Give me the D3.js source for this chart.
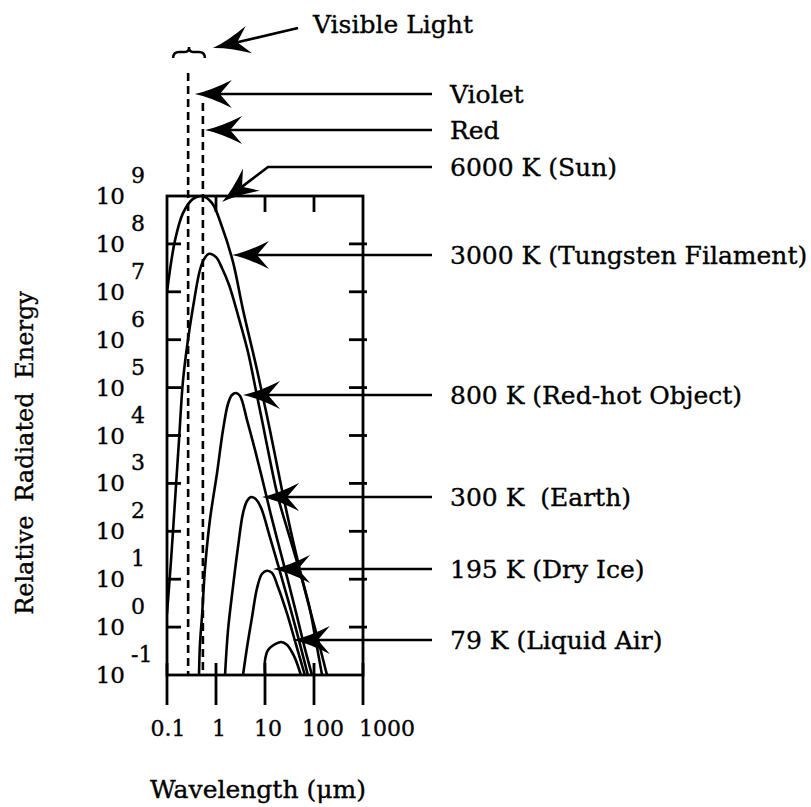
<!DOCTYPE html>
<html>
<head>
<meta charset="utf-8">
<script src="https://cdn.jsdelivr.net/npm/d3@7"></script>
<style>
body { margin:0; padding:0; background:white; overflow:hidden; }
text { font-family: 'DejaVu Serif', serif; fill:#000; stroke:#000; stroke-width:0.35px; }
</style>
</head>
<body>
<div id="chart"></div>
<script>
//========== DATA ==========
// each curve: [wavelength in µm, relative radiated energy]
const curve6000 = [[0.1,1e7],[0.146,1.2e8],[0.212,4.4e8],[0.34,8.7e8],[0.52,1e9],[0.83,7.1e8],[1.33,2.25e8],
  [2.22,4.2e7],[3.56,4.2e6],[6.9,2.3e5],[12.6,1.3e4],[22.2,730],[39,52],[69,4.7],[121,0.54],[184,0.1]];
const curve3000 = [[0.1,1.9],[0.121,25],[0.146,450],[0.176,8.1e3],[0.212,1.4e5],[0.268,1e6],[0.34,4.8e6],
  [0.47,2.85e7],[0.57,4.8e7],[0.72,6.2e7],[1.0,5.3e7],[1.33,3.1e7],[1.84,1.4e7],[2.8,3.3e6],[4.5,5.5e5],
  [6.5,8.9e4],[9.1,1.65e4],[12.6,3.1e3],[18.4,520],[31,83],[49,17],[79,2.9],[110,0.49],[146,0.1]];
const curve800 = [[0.45,0.1],[0.47,0.43],[0.52,1.8],[0.6,18],[0.75,170],[1.05,1650],[1.39,1.3e4],[1.76,4.6e4],
  [2.12,7e4],[2.56,7.7e4],[3.1,6.7e4],[4.3,2.1e4],[6.25,5e3],[9.1,1070],[13.2,220],[20.2,41],[31,7.6],
  [47,1.4],[65,0.36],[91,0.1]];
const curve300 = [[1.53,0.1],[1.76,0.87],[2.22,6.9],[2.81,47],[3.56,240],[4.3,430],[5.2,520],[6.5,470],
  [8.3,310],[12.6,76],[19.3,17],[29.5,3.7],[45,0.76],[75,0.1]];
const curve195 = [[3.56,0.1],[4.3,0.38],[5.4,1.55],[6.9,6.6],[8.7,13],[11,15],[13.9,13.5],[18.4,6.9],
  [28,1.95],[43,0.43],[65,0.1]];
const curve79 = [[10,0.1],[10,0.2],[11.5,0.33],[16.8,0.45],[21.2,0.49],[28,0.43],[39,0.25],[54,0.1]];

const curves = [curve6000, curve3000, curve800, curve300, curve195, curve79];

const violetWl = 0.27;     // dashed line, violet edge
const redWl = 0.54;        // dashed line, red edge

const xTicks = [0.1, 1, 10, 100, 1000];
const xTickLabels = ["0.1", "1", "10", "100", "1000"];
const yExps = [-1, 0, 1, 2, 3, 4, 5, 6, 7, 8, 9];

const annoLabels = ["Violet", "Red", "6000 K (Sun)", "3000 K (Tungsten Filament)", "800 K (Red-hot Object)",
  "300 K\u00a0 (Earth)", "195 K (Dry Ice)", "79 K (Liquid Air)"];
const annoTipWl = [0.37, 0.6, 1.33, 2.12, 3.56, 8.7, 14.6, 37];   // wavelength each arrow points at
const sunTipE = 7.5e8;                                           // the 6000 K arrow points down onto the peak

//========== LAYOUT ==========
const W = 811, H = 807;
const pLeft = 167, pRight = 363, pTop = 196, pBottom = 675;
const rowY = [94, 130, 167, 255, 395, 497, 569, 640];   // label rows on the right
const lineEndX = 432, labelX = 450;
const xLabelNudge = [1, 3, 3, 9, 24];

const svg = d3.select("#chart").append("svg").attr("width", W).attr("height", H);

const x = d3.scaleLog().domain([0.1, 1000]).range([pLeft, pRight]);
const y = d3.scaleLog().domain([0.1, 1e9]).range([pBottom, pTop]);

svg.append("defs").append("clipPath").attr("id", "plotClip")
  .append("rect").attr("x", pLeft).attr("y", pTop - 1).attr("width", pRight - pLeft).attr("height", pBottom - pTop + 1);

//========== VISIBLE BAND (dashed) ==========
[[violetWl, 73], [redWl, 103]].forEach(([wl, y0]) => {
  svg.append("line")
    .attr("x1", x(wl)).attr("x2", x(wl)).attr("y1", y0).attr("y2", pBottom)
    .attr("stroke", "#000").attr("stroke-width", 2.6).attr("stroke-dasharray", "8,5");
});

// brace over the band
const bL = x(violetWl) - 15, bR = x(redWl) + 2, bM = (bL + bR) / 2, bY = 52;
svg.append("path")
  .attr("d", `M${bL},${bY+6} Q${bL},${bY} ${bL+6},${bY} L${bM-4},${bY} Q${bM},${bY} ${bM},${bY-5}
              Q${bM},${bY} ${bM+4},${bY} L${bR-6},${bY} Q${bR},${bY} ${bR},${bY+6}`)
  .attr("fill", "none").attr("stroke", "#000").attr("stroke-width", 2.4);

//========== CURVES ==========
const line = d3.line()
  .x(d => x(d[0])).y(d => y(d[1]))
  .curve(d3.curveCatmullRom.alpha(0.5));

svg.append("g").attr("clip-path", "url(#plotClip)")
  .selectAll("path").data(curves).enter().append("path")
  .attr("d", line)
  .attr("fill", "none").attr("stroke", "#000").attr("stroke-width", 2.6)
  .attr("stroke-linejoin", "round");

//========== FRAME & TICKS ==========
const axisG = svg.append("g").attr("stroke", "#000").attr("stroke-width", 2.8);
axisG.append("rect").attr("x", pLeft).attr("y", pTop)
  .attr("width", pRight - pLeft).attr("height", pBottom - pTop).attr("fill", "none");

yExps.slice(1, -1).forEach(e => {
  const v = Math.pow(10, e);
  axisG.append("line").attr("x1", pLeft).attr("x2", pLeft + 14).attr("y1", y(v)).attr("y2", y(v));
  axisG.append("line").attr("x1", pRight - 14).attr("x2", pRight + 4).attr("y1", y(v)).attr("y2", y(v));
});
xTicks.forEach((v, i) => {
  axisG.append("line").attr("x1", x(v)).attr("x2", x(v)).attr("y1", pBottom - 12).attr("y2", pBottom + 30);
  if (i > 0 && i < xTicks.length - 1)
    axisG.append("line").attr("x1", x(v)).attr("x2", x(v)).attr("y1", pTop).attr("y2", pTop + 16);
});

// y tick labels: 10 with superscript exponent
yExps.forEach(e => {
  const yy = y(Math.pow(10, e));
  svg.append("text").attr("x", 125).attr("y", yy + 8)
    .attr("text-anchor", "end").style("font-size", "23px").text("10");
  svg.append("text").attr("x", 131).attr("y", yy - 13)
    .style("font-size", "22px").text(e < 0 ? "-" + Math.abs(e) : String(e));
});

// x tick labels
xTicks.forEach((v, i) => {
  svg.append("text").attr("x", x(v) + xLabelNudge[i]).attr("y", 736)
    .attr("text-anchor", "middle").style("font-size", "22px").text(xTickLabels[i]);
});

// axis titles
svg.append("text").attr("x", (pLeft + pRight) / 2 - 7).attr("y", 798)
  .attr("text-anchor", "middle").style("font-size", "25px").text("Wavelength (\u03bcm)");
svg.append("text").attr("transform", "translate(33,453) rotate(-90)")
  .attr("text-anchor", "middle").style("font-size", "24px").style("word-spacing", "6px")
  .text("Relative Radiated Energy");

//========== ANNOTATION ARROWS ==========
const annoG = svg.append("g");

function arrow(points) {             // points: from ... to tip (last)
  const n = points.length;
  const [tx, ty] = points[n - 1], [fx, fy] = points[n - 2];
  const ang = Math.atan2(fy - ty, fx - tx);
  const pts = points.slice(0, n - 1);
  pts.push([tx + 24 * Math.cos(ang), ty + 24 * Math.sin(ang)]);
  annoG.append("path").attr("d", d3.line()(pts))
    .attr("fill", "none").attr("stroke", "#000").attr("stroke-width", 2.7);
  annoG.append("path")
    .attr("d", "M0,0 Q15,-3 37,-14 L25,0 L37,14 Q15,3 0,0Z")
    .attr("transform", `translate(${tx},${ty}) rotate(${ang * 180 / Math.PI})`)
    .attr("fill", "#000");
}

annoLabels.forEach((lab, i) => {
  const ry = rowY[i];
  if (i === 2) {
    arrow([[lineEndX, ry], [268, ry], [x(annoTipWl[i]), y(sunTipE)]]);
  } else {
    arrow([[lineEndX, ry], [x(annoTipWl[i]), ry]]);
  }
  annoG.append("text").attr("x", labelX).attr("y", ry + 9)
    .style("font-size", "25px").text(lab);
});

// Visible Light
const vlX = 313;
arrow([[vlX - 15, 28], [bR + 8, bY - 4]]);
annoG.append("text").attr("x", vlX).attr("y", 33).style("font-size", "25px").text("Visible Light");
</script>
</body>
</html>
